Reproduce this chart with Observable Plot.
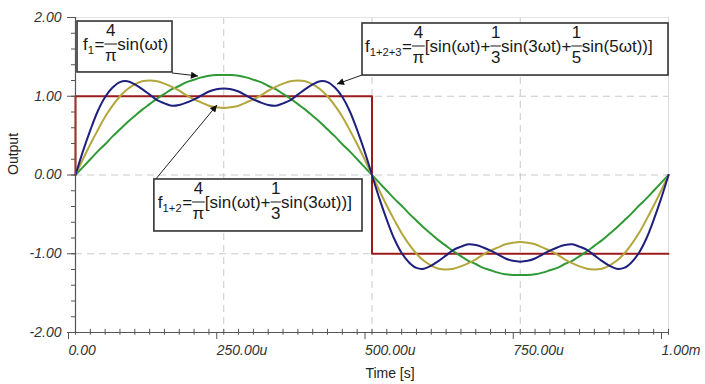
<!DOCTYPE html>
<html><head><meta charset="utf-8">
<script src="https://cdn.jsdelivr.net/npm/d3@7"></script>
<script src="https://cdn.jsdelivr.net/npm/@observablehq/plot@0.6"></script>
<style>
html,body{margin:0;padding:0;background:#fff;}
#chart svg{display:block;font-family:"Liberation Sans",Arial,sans-serif;}
</style></head><body><div id="chart"></div>
<script>
// time in microseconds
const timeUs = [0,12.5,25,37.5,50,62.5,75,87.5,100,112.5,125,137.5,150,162.5,175,187.5,200,212.5,225,237.5,250,
262.5,275,287.5,300,312.5,325,337.5,350,362.5,375,387.5,400,412.5,425,437.5,450,462.5,475,487.5,500,
512.5,525,537.5,550,562.5,575,587.5,600,612.5,625,637.5,650,662.5,675,687.5,700,712.5,725,737.5,750,
762.5,775,787.5,800,812.5,825,837.5,850,862.5,875,887.5,900,912.5,925,937.5,950,962.5,975,987.5,1000];

const f1 = [0,0.10,0.20,0.30,0.39,0.49,0.58,0.67,0.75,0.83,0.90,0.97,1.03,1.09,1.13,1.18,1.21,1.24,1.26,1.27,1.27,
1.27,1.26,1.24,1.21,1.18,1.13,1.09,1.03,0.97,0.90,0.83,0.75,0.67,0.58,0.49,0.39,0.30,0.20,0.10,0,
-0.10,-0.20,-0.30,-0.39,-0.49,-0.58,-0.67,-0.75,-0.83,-0.90,-0.97,-1.03,-1.09,-1.13,-1.18,-1.21,-1.24,-1.26,-1.27,-1.27,
-1.27,-1.26,-1.24,-1.21,-1.18,-1.13,-1.09,-1.03,-0.97,-0.90,-0.83,-0.75,-0.67,-0.58,-0.49,-0.39,-0.30,-0.20,-0.10,0];

const f12 = [0,0.20,0.39,0.57,0.74,0.88,1.00,1.09,1.15,1.19,1.20,1.19,1.16,1.12,1.07,1.01,0.96,0.92,0.88,0.86,0.85,
0.86,0.88,0.92,0.96,1.01,1.07,1.12,1.16,1.19,1.20,1.19,1.15,1.09,1.00,0.88,0.74,0.57,0.39,0.20,0,
-0.20,-0.39,-0.57,-0.74,-0.88,-1.00,-1.09,-1.15,-1.19,-1.20,-1.19,-1.16,-1.12,-1.07,-1.01,-0.96,-0.92,-0.88,-0.86,-0.85,
-0.86,-0.88,-0.92,-0.96,-1.01,-1.07,-1.12,-1.16,-1.19,-1.20,-1.19,-1.15,-1.09,-1.00,-0.88,-0.74,-0.57,-0.39,-0.20,0];

const f123 = [0,0.30,0.57,0.81,0.99,1.11,1.18,1.19,1.15,1.09,1.02,0.95,0.91,0.88,0.89,0.92,0.96,1.01,1.06,1.09,1.10,
1.09,1.06,1.01,0.96,0.92,0.89,0.88,0.91,0.95,1.02,1.09,1.15,1.19,1.18,1.11,0.99,0.81,0.57,0.30,0,
-0.30,-0.57,-0.81,-0.99,-1.11,-1.18,-1.19,-1.15,-1.09,-1.02,-0.95,-0.91,-0.88,-0.89,-0.92,-0.96,-1.01,-1.06,-1.09,-1.10,
-1.09,-1.06,-1.01,-0.96,-0.92,-0.89,-0.88,-0.91,-0.95,-1.02,-1.09,-1.15,-1.19,-1.18,-1.11,-0.99,-0.81,-0.57,-0.30,0];

// square wave corner points
const squareT = [0,0,500,500,1000];
const squareV = [0,1,1,-1,-1];

const xTicks = [0,250,500,750,1000];
const xTickLabels = ["0.00","250.00u","500.00u","750.00u","1.00m"];
const yTicks = [-2,-1,0,1,2];
const yTickLabels = ["-2.00","-1.00","0.00","1.00","2.00"];
const xMinor = d3.range(0, 1000.1, 25);
const yMinor = d3.range(-2, 2.01, 0.2).map(d => +d.toFixed(2));

// annotation boxes (data units) and formula pieces
const boxX1 = [3.4, 484, 133];
const boxX2 = [163.6, 1000, 484];
const boxY1 = [1.949, 1.924, -0.057];
const boxY2 = [1.302, 1.263, -0.717];
const boxPad = [6, 3, 4];
const formulas = [
  [{t:"f"},{sub:"1"},{t:"="},{num:"4",den:"π"},{t:"sin(ωt)"}],
  [{t:"f"},{sub:"1+2+3"},{t:"="},{num:"4",den:"π"},{t:"[sin(ωt)+"},{num:"1",den:"3"},{t:"sin(3ωt)+"},{num:"1",den:"5"},{t:"sin(5ωt))]"}],
  [{t:"f"},{sub:"1+2"},{t:"="},{num:"4",den:"π"},{t:"[sin(ωt)+"},{num:"1",den:"3"},{t:"sin(3ωt))]"}]
];
const arrowFromT = [163.6, 484, 134.9];
const arrowFromV = [1.289, 1.263, -0.070];
const arrowToT = [207.4, 441.8, 239.5];
const arrowToV = [1.251, 1.149, 0.883];

const toRows = vals => timeUs.map((t, i) => ({t, v: vals[i]}));
const squareRows = squareT.map((t, i) => ({t, v: squareV[i]}));

const colors = {square: "#9c1c1c", f1: "#2f9a35", f12: "#b3a63c", f123: "#1f1f7e"};
const grid = "#c9c9c9";

const plot = Plot.plot({
  width: 705,
  height: 384,
  marginLeft: 75,
  marginRight: 37,
  marginTop: 17,
  marginBottom: 52,
  style: {color: "#333", fontFamily: "'Liberation Sans', Arial, sans-serif", background: "#fff"},
  x: {domain: [0, 1000]},
  y: {domain: [-2, 2]},
  marks: [
    Plot.ruleX([250, 500, 750], {stroke: grid, strokeDasharray: "7,5", strokeWidth: 1}),
    Plot.ruleY([-1, 0, 1], {stroke: grid, strokeDasharray: "7,5", strokeWidth: 1}),
    Plot.ruleX([1000], {stroke: "#dcdcdc", strokeWidth: 1}),
    Plot.ruleY([2], {stroke: "#e4e4e4", strokeWidth: 1}),
    Plot.line(squareRows, {x: "t", y: "v", stroke: colors.square, strokeWidth: 2}),
    Plot.line(toRows(f1), {x: "t", y: "v", stroke: colors.f1, strokeWidth: 2, curve: "catmull-rom"}),
    Plot.line(toRows(f12), {x: "t", y: "v", stroke: colors.f12, strokeWidth: 2, curve: "catmull-rom"}),
    Plot.line(toRows(f123), {x: "t", y: "v", stroke: colors.f123, strokeWidth: 2, curve: "catmull-rom"}),
    // axes lines
    Plot.ruleX([0], {stroke: "#555", strokeWidth: 1.2}),
    Plot.ruleY([-2], {stroke: "#555", strokeWidth: 1.2}),
    // minor ticks x (crossing the axis)
    Plot.ruleX(xMinor, {y1: -2.035, y2: -1.96, stroke: "#555", strokeWidth: 1}),
    Plot.axisX(xTicks, {tickSize: 7, tickPadding: 6, fontSize: 14, fontStyle: "italic", textAnchor: "start", dx: -7,
      tickFormat: d => xTickLabels[xTicks.indexOf(d)], label: null, stroke: "#555"}),
    Plot.axisY(yMinor, {tickSize: 4, tickFormat: () => "", label: null, stroke: "#555"}),
    Plot.axisY(yTicks, {tickSize: 8, tickPadding: 6, fontSize: 14, fontStyle: "italic",
      tickFormat: d => yTickLabels[yTicks.indexOf(d)], label: null, stroke: "#555"}),
    Plot.text(["Time [s]"], {text: d => d, frameAnchor: "bottom", dy: 45, dx: 18, fontSize: 14, fill: "#222"}),
    Plot.text(["Output"], {text: d => d, frameAnchor: "left", dx: -62, rotate: -90, fontSize: 14, fill: "#222"})
  ]
});
document.getElementById("chart").appendChild(plot);

// annotations placed through the plot's own scales
const sx = plot.scale("x"), sy = plot.scale("y");
const X = d3.scaleLinear(sx.domain, sx.range);
const Y = d3.scaleLinear(sy.domain, sy.range);
const svg = d3.select(plot);
const defs = svg.append("defs");
defs.append("marker").attr("id", "ahead").attr("viewBox", "0 0 10 10").attr("refX", 10).attr("refY", 5)
  .attr("markerWidth", 9).attr("markerHeight", 7).attr("markerUnits", "userSpaceOnUse").attr("orient", "auto")
  .append("path").attr("d", "M0,0L10,5L0,10Z").attr("fill", "#111");

const ann = svg.append("g").attr("font-family", "'Liberation Sans', Arial, sans-serif")
  .attr("fill", "#1a1a1a").attr("text-anchor", "start");
const FS = 17;

function drawFormula(g, x0, yBase, parts) {
  let x = x0;
  for (const p of parts) {
    if (p.t !== undefined) {
      const el = g.append("text").attr("text-anchor", "start").attr("x", x).attr("y", yBase).attr("font-size", FS).text(p.t);
      x += el.node().getComputedTextLength();
    } else if (p.sub !== undefined) {
      const el = g.append("text").attr("text-anchor", "start").attr("x", x).attr("y", yBase + 4).attr("font-size", FS * 0.66).text(p.sub);
      x += el.node().getComputedTextLength() + 0.5;
    } else {
      const n = g.append("text").attr("y", yBase - 14).attr("font-size", FS).attr("text-anchor", "middle").text(p.num);
      const d = g.append("text").attr("y", yBase + 11).attr("font-size", FS).attr("text-anchor", "middle").text(p.den);
      const w = Math.max(n.node().getComputedTextLength(), d.node().getComputedTextLength()) + 1;
      n.attr("x", x + w / 2); d.attr("x", x + w / 2);
      g.append("line").attr("x1", x).attr("x2", x + w).attr("y1", yBase - 6).attr("y2", yBase - 6)
        .attr("stroke", "#1a1a1a").attr("stroke-width", 1);
      x += w;
    }
  }
  return x - x0;
}

for (let i = 0; i < formulas.length; i++) {
  ann.append("line")
    .attr("x1", X(arrowFromT[i])).attr("y1", Y(arrowFromV[i]))
    .attr("x2", X(arrowToT[i])).attr("y2", Y(arrowToV[i]))
    .attr("stroke", "#222").attr("stroke-width", 1).attr("marker-end", "url(#ahead)");
}
for (let i = 0; i < formulas.length; i++) {
  const x1 = X(boxX1[i]), x2 = X(boxX2[i]), y1 = Y(boxY1[i]), y2 = Y(boxY2[i]);
  ann.append("rect").attr("x", x1).attr("y", y1).attr("width", x2 - x1).attr("height", y2 - y1)
    .attr("fill", "#fff").attr("stroke", "#333").attr("stroke-width", 1.6);
  drawFormula(ann, x1 + boxPad[i], y1 + 29, formulas[i]);
}
</script></body></html>
